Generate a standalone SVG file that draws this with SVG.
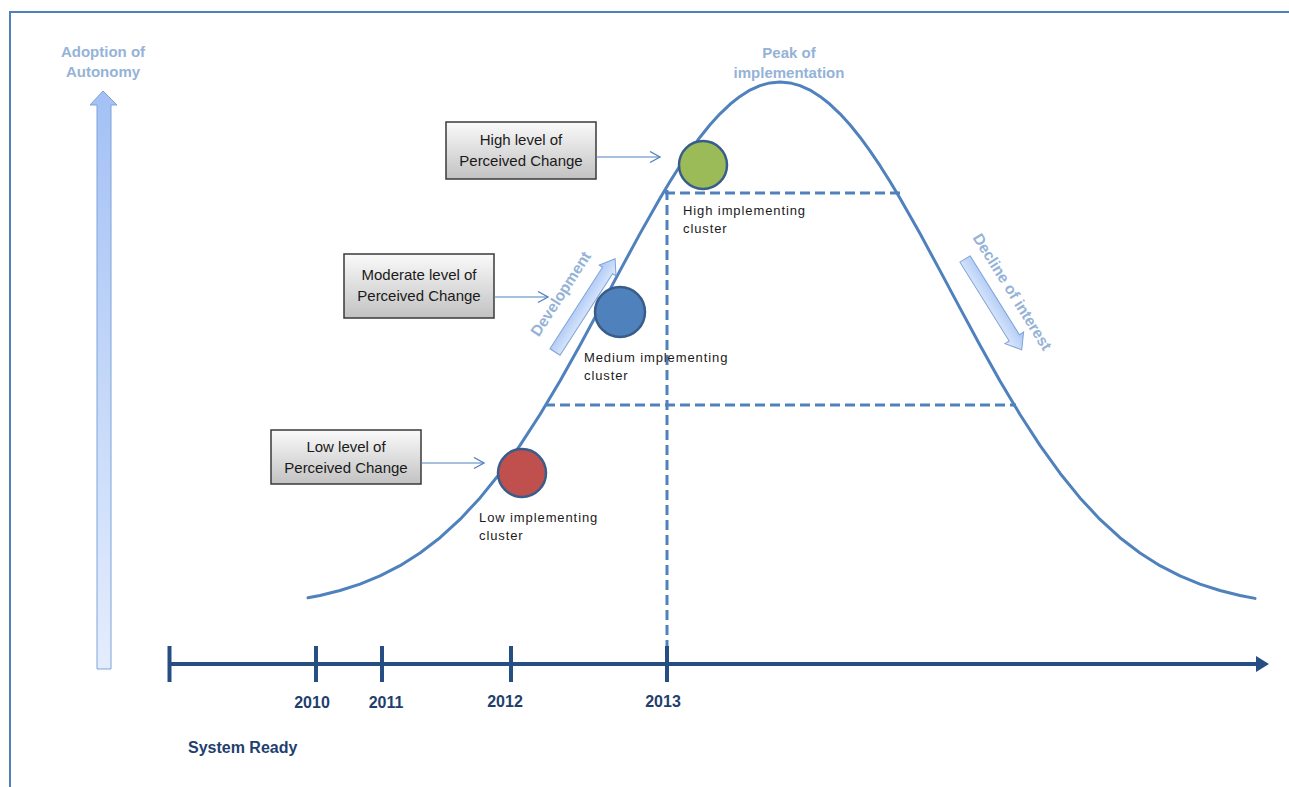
<svg xmlns="http://www.w3.org/2000/svg" width="1289" height="787" viewBox="0 0 1289 787">
<style>
.box{stroke:#3a3a3a;stroke-width:1.5;fill:url(#boxg);}
.boxt{font-family:"Liberation Sans",Arial,sans-serif;font-size:15px;fill:#1a1a1a;text-anchor:middle;}
.clt{font-family:"Liberation Sans",Arial,sans-serif;font-size:13px;fill:#1a1a1a;letter-spacing:0.9px;}
.lb{font-family:"Liberation Sans",Arial,sans-serif;font-weight:bold;font-size:15px;fill:#95B3D7;text-anchor:middle;}
.yr{font-family:"Liberation Sans",Arial,sans-serif;font-weight:bold;font-size:16px;fill:#1F3F6E;text-anchor:middle;}
.dash{stroke:#4F81BD;stroke-width:3;stroke-dasharray:10 5;fill:none;}
.conn{stroke:#4F81BD;stroke-width:1.2;fill:none;marker-end:url(#chev);}
.circ{stroke:#385D8A;stroke-width:2.5;}
.tl{stroke:#264E82;stroke-width:4;fill:none;}
.blk{stroke:#7FA3D6;stroke-width:1;}
</style>
<defs>
<linearGradient id="boxg" x1="0" y1="0" x2="0" y2="1">
<stop offset="0" stop-color="#FAFAFA"/>
<stop offset="1" stop-color="#C2C2C2"/>
</linearGradient>
<linearGradient id="vag" x1="0" y1="0" x2="0" y2="1">
<stop offset="0" stop-color="#A3C1F5"/>
<stop offset="1" stop-color="#E4EDFD"/>
</linearGradient>
<linearGradient id="hag" x1="0" y1="0" x2="0" y2="1">
<stop offset="0" stop-color="#A8C5F5"/>
<stop offset="1" stop-color="#E2ECFC"/>
</linearGradient>
<marker id="chev" markerUnits="userSpaceOnUse" markerWidth="14" markerHeight="14" refX="11" refY="6" orient="auto">
<path d="M1,0.5 L11,6 L1,11.5" fill="none" stroke="#4F81BD" stroke-width="1.3"/>
</marker>
</defs>
<rect width="1289" height="787" fill="#ffffff"/>
<g id="frame">
<path d="M10,787 L10,12 L1289,12" fill="none" stroke="#4F81BD" stroke-width="2"/>
</g>
<g id="y-axis">
<path class="blk" d="M103,91 L117,105 L111,105 L111,669 L97,669 L97,105 L90,105 Z" fill="url(#vag)"/>
<text class="lb" x="103" y="57">Adoption of</text>
<text class="lb" x="103" y="77">Autonomy</text>
</g>
<g id="guides">
<line class="dash" x1="667" y1="190" x2="667" y2="660"/>
<line class="dash" x1="665" y1="193" x2="902" y2="193"/>
<line class="dash" x1="545" y1="405" x2="1016" y2="405"/>
</g>
<g id="curve">
<polyline points="308,597.8 320,595.5 340,590.5 360,584.1 380,575.9 400,565.7 420,553 440,537.7 460,519.4 480,497.9 500,473.2 520,445.4 540,414.5 560,380.9 580,345.2 600,308.1 620,270.6 640,233.6 660,198.2 670,181.5 680,165.7 690,150.9 700,137.2 710,124.8 720,113.8 730,104.3 740,96.4 750,90.1 760,85.6 770,82.9 780,82 790,82.9 800,85.6 810,90.1 820,96.4 830,104.3 840,113.8 850,124.8 860,137.2 870,150.9 880,165.7 890,181.5 900,198.2 920,233.6 940,270.6 960,308.1 980,345.2 1000,380.9 1020,414.5 1040,445.4 1060,473.2 1080,497.9 1100,519.4 1120,537.7 1140,553 1160,565.7 1180,575.9 1200,584.1 1220,590.5 1240,595.5 1255,598.4" fill="none" stroke="#4F81BD" stroke-width="3" stroke-linejoin="round" stroke-linecap="round"/>
<text class="lb" x="789" y="58">Peak of</text>
<text class="lb" x="789" y="78">implementation</text>
</g>
<g id="development">
<path class="blk" transform="translate(555,352) rotate(-57.2)" d="M0,-6 L97,-6 L97,-10 L111,0 L97,10 L97,6 L0,6 Z" fill="url(#hag)"/>
<text class="lb" transform="translate(561,294) rotate(-57.2)" y="5" style="font-size:15.5px">Development</text>
</g>
<g id="decline">
<path class="blk" transform="translate(965,259) rotate(58)" d="M0,-6 L93,-6 L93,-11 L107,0 L93,11 L93,6 L0,6 Z" fill="url(#hag)"/>
<text class="lb" transform="translate(1012,292) rotate(58)" y="5" style="font-size:15.5px">Decline of interest</text>
</g>
<g id="timeline">
<line class="tl" x1="168" y1="664" x2="1256" y2="664"/>
<polygon points="1256,656 1269,664 1256,672" fill="#264E82"/>
<line class="tl" x1="169.5" y1="646" x2="169.5" y2="682"/>
<line class="tl" x1="316" y1="646" x2="316" y2="682"/>
<line class="tl" x1="382" y1="646" x2="382" y2="682"/>
<line class="tl" x1="511" y1="646" x2="511" y2="682"/>
<line class="tl" x1="667" y1="646" x2="667" y2="682"/>
<text class="yr" x="312" y="708">2010</text>
<text class="yr" x="386" y="708">2011</text>
<text class="yr" x="505" y="707">2012</text>
<text class="yr" x="663" y="707">2013</text>
<text class="yr" x="188" y="753" style="text-anchor:start">System Ready</text>
</g>
<g id="node-high-box">
<rect class="box" x="446" y="122" width="150" height="57"/>
<text class="boxt" x="521" y="145">High level of</text>
<text class="boxt" x="521" y="166">Perceived Change</text>
</g>
<g id="node-moderate-box">
<rect class="box" x="344" y="254" width="150" height="64"/>
<text class="boxt" x="419" y="280">Moderate level of</text>
<text class="boxt" x="419" y="301">Perceived Change</text>
</g>
<g id="node-low-box">
<rect class="box" x="271" y="430" width="150" height="54"/>
<text class="boxt" x="346" y="452">Low level of</text>
<text class="boxt" x="346" y="473">Perceived Change</text>
</g>
<g id="node-high-cluster">
<circle class="circ" cx="703" cy="165" r="24" fill="#9BBB59"/>
<text class="clt" x="683" y="215">High implementing</text>
<text class="clt" x="683" y="233">cluster</text>
</g>
<g id="node-medium-cluster">
<circle class="circ" cx="620" cy="312" r="25" fill="#4F81BD"/>
<text class="clt" x="584" y="362">Medium implementing</text>
<text class="clt" x="584" y="380">cluster</text>
</g>
<g id="node-low-cluster">
<circle class="circ" cx="522" cy="473" r="24" fill="#C0504D"/>
<text class="clt" x="479" y="522">Low implementing</text>
<text class="clt" x="479" y="540">cluster</text>
</g>
<g id="connectors">
<line class="conn" x1="596" y1="157" x2="660" y2="157"/>
<line class="conn" x1="494" y1="297" x2="548" y2="297"/>
<line class="conn" x1="421" y1="463" x2="484" y2="463"/>
</g>
</svg>
